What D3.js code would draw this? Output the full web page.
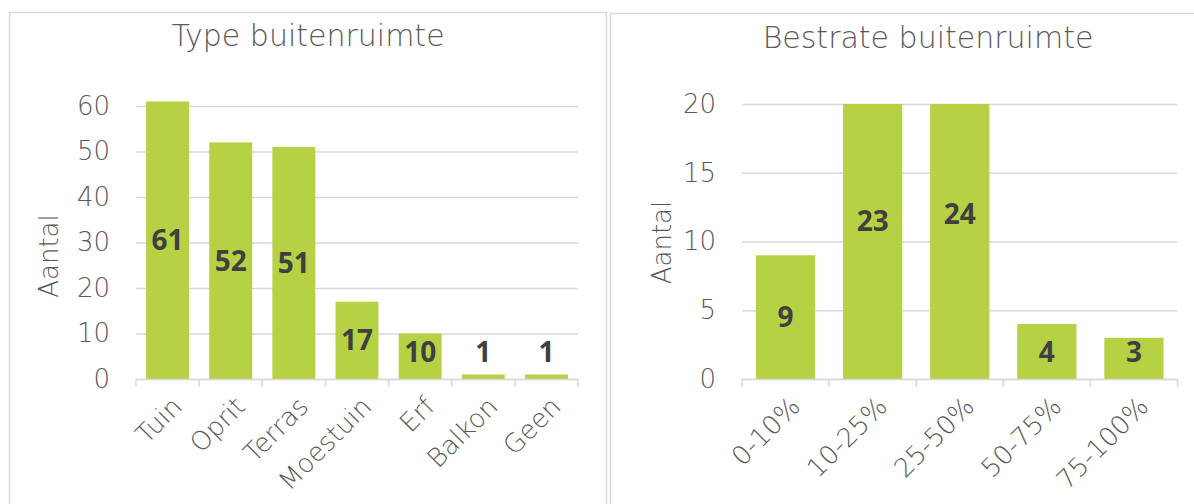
<!DOCTYPE html>
<html><head><meta charset="utf-8">
<script src="https://cdn.jsdelivr.net/npm/d3@7"></script>
<style>body{margin:0;background:#fff;} svg{display:block;}</style>
</head><body>
<svg id="chart" width="1194" height="504"></svg>
<script>
const typeCategories = ["Tuin","Oprit","Terras","Moestuin","Erf","Balkon","Geen"];
const typeValues = [61,52,51,17,10,1,1];
const typeTicks = [0,10,20,30,40,50,60];
const paveCategories = ["0-10%","10-25%","25-50%","50-75%","75-100%"];
const paveValues = [9,23,24,4,3];
const paveTicks = [0,5,10,15,20];

const FONT = "'DejaVu Sans', sans-serif";
const BFONT = "'Open Sans', 'Noto Sans', sans-serif";
const LW = 200;
const TEXT = "#595959", LABEL = "#404040", GRID = "#d9d9d9", BAR = "#b6d144";

const svg = d3.select("#chart");

function panel(o){
  const g = svg.append("g");
  g.append("rect").attr("x",o.box[0]).attr("y",o.box[1]).attr("width",o.box[2]).attr("height",o.box[3])
    .attr("fill","#fff").attr("stroke",GRID).attr("stroke-width",1.5);
  g.append("text").attr("x",o.titleX).attr("y",o.titleY).attr("text-anchor","middle")
    .attr("font-family",FONT).attr("font-weight",LW).attr("font-size",30).attr("fill",TEXT).text(o.title);

  const x = d3.scaleBand().domain(o.cats).range([o.x0,o.x1]).paddingInner(0.32).paddingOuter(0.16);
  const y = d3.scaleLinear().domain([0,o.yMax]).range([o.yb,o.yt]);

  const ya = g.append("g").attr("transform",`translate(${o.x0},0)`)
    .call(d3.axisLeft(y).tickValues(o.ticks).tickSize(-(o.x1-o.x0)).tickPadding(26));
  ya.select(".domain").remove();
  ya.selectAll(".tick line").attr("stroke",GRID).attr("stroke-width",1.5);
  ya.selectAll(".tick text").attr("font-family",FONT).attr("font-weight",LW).attr("font-size",26).attr("fill",TEXT);

  g.append("text").attr("transform",`translate(${o.axX},${o.axY}) rotate(-90)`).attr("text-anchor","middle")
    .attr("font-family",FONT).attr("font-weight",LW).attr("font-size",26).attr("fill",TEXT).text("Aantal");

  const top = o.clip ? o.yMax : Infinity;
  g.append("g").selectAll("rect").data(o.vals).join("rect")
    .attr("x",(d,i)=>x(o.cats[i])).attr("width",x.bandwidth())
    .attr("y",d=>y(Math.min(d,top))).attr("height",d=>y(0)-y(Math.min(d,top)))
    .attr("fill",BAR);

  const xa = g.append("g").attr("transform",`translate(0,${o.yb})`).call(d3.axisBottom(x).tickSize(0).tickPadding(0));
  xa.select(".domain").attr("stroke",GRID).attr("stroke-width",1.5);
  xa.selectAll(".tick text").attr("font-family",FONT).attr("font-weight",LW).attr("font-size",26).attr("fill",TEXT)
    .attr("text-anchor","end").attr("x",0).attr("y",0).attr("dy","0.71em")
    .attr("transform","translate(3,16) rotate(-45)");
  const bounds = d3.range(o.cats.length+1).map(i=>o.x0 + i*x.step());
  g.append("g").selectAll("line").data(bounds).join("line")
    .attr("x1",d=>d).attr("x2",d=>d).attr("y1",o.yb).attr("y2",o.yb+8)
    .attr("stroke",GRID).attr("stroke-width",1.5);

  g.append("g").selectAll("text").data(o.vals).join("text")
    .attr("x",(d,i)=>x(o.cats[i])+x.bandwidth()/2)
    .attr("y",d=>Math.min(y(d/2), y(0)-27)).attr("dy","0.36em").attr("text-anchor","middle")
    .attr("font-family",BFONT).attr("font-weight",700).attr("font-size",28).attr("fill",LABEL).text(d=>d);
}

panel({box:[9.5,12.5,597,600],title:"Type buitenruimte",titleX:308,titleY:46,
  cats:typeCategories,vals:typeValues,ticks:typeTicks,yMax:60,clip:false,
  x0:136,x1:578,yt:106,yb:379,axX:58,axY:256});
panel({box:[610.5,13.5,700,600],title:"Bestrate buitenruimte",titleX:928,titleY:47.5,
  cats:paveCategories,vals:paveValues,ticks:paveTicks,yMax:20,clip:true,
  x0:742,x1:1177.5,yt:104,yb:379,axX:671,axY:242.5});
</script>
</body></html>
